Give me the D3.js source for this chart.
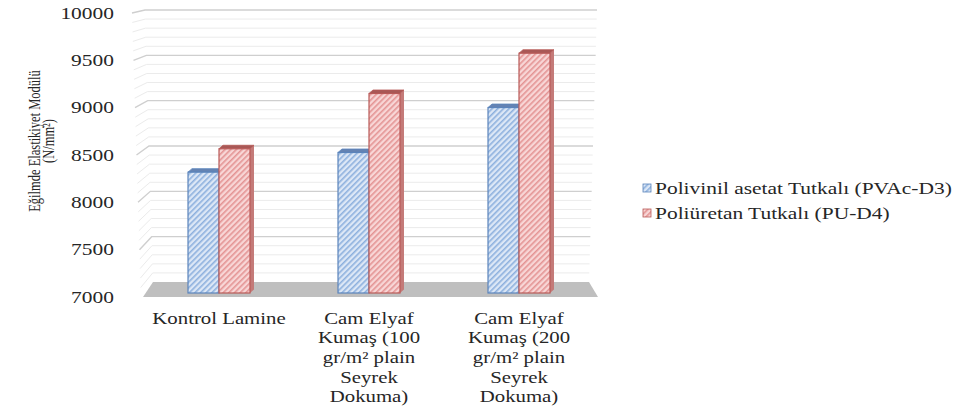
<!DOCTYPE html>
<html>
<head>
<meta charset="utf-8">
<script src="https://cdn.jsdelivr.net/npm/d3@7"></script>
<style>
  body { margin: 0; background: #fff; }
</style>
</head>
<body>
<div id="chart"></div>
<script>
var categories = ["Kontrol Lamine", "Cam Elyaf 100", "Cam Elyaf 200"];
var categoryLabels = [
  ["Kontrol Lamine"],
  ["Cam Elyaf", "Kumaş (100", "gr/m² plain", "Seyrek", "Dokuma)"],
  ["Cam Elyaf", "Kumaş (200", "gr/m² plain", "Seyrek", "Dokuma)"]
];
var seriesNames = ["Polivinil asetat Tutkalı (PVAc-D3)", "Poliüretan Tutkalı (PU-D4)"];
var pvacValues = [8290, 8500, 8980];
var puValues = [8540, 9130, 9560];
var yTicks = [7000, 7500, 8000, 8500, 9000, 9500, 10000];
var yTitle = ["Eğilmde Elastikiyet Modülü", "(N/mm²)"];

var seriesColors = [
  { base: "#dce7f6", stripe: "#8db0de", edge: "#5b84bb", top: "#6483b3", side: "#7b9ccb" },
  { base: "#f8d6d6", stripe: "#e49494", edge: "#b85a58", top: "#a85856", side: "#c47a78" }
];

var FONT = "'Liberation Serif', 'Times New Roman', 'DejaVu Serif', serif";
var W = 957, H = 409;
var hx = 1.3; // the picture is stretched sideways

var svg = d3.select("#chart").append("svg")
  .attr("width", W).attr("height", H);

var defs = svg.append("defs");
seriesColors.forEach(function(c, i) {
  var p = defs.append("pattern")
    .attr("id", "hatch" + i)
    .attr("patternUnits", "userSpaceOnUse")
    .attr("width", 4).attr("height", 4)
    .attr("patternTransform", "rotate(45)");
  p.append("rect").attr("width", 4).attr("height", 4).attr("fill", c.base);
  p.append("rect").attr("width", 1.6).attr("height", 4).attr("fill", c.stripe);
});

var lo = 7000, hi = 10000;
var yBack = d3.scaleLinear().domain([lo, hi]).range([282, 10]);
var yFront = d3.scaleLinear().domain([lo, hi]).range([297, 13]);
var yBar = d3.scaleLinear().domain([lo, hi]).range([293, 12]);
var xWallFront = d3.scaleLinear().domain([lo, hi]).range([141, 132]);
var xWallBack = d3.scaleLinear().domain([lo, hi]).range([153, 145]);
var xBackRight = d3.scaleLinear().domain([lo, hi]).range([589, 597]);

var x = d3.scaleBand().domain(categories).range([144, 594]);
var xs = d3.scaleBand().domain([0, 1]).range([0, x.bandwidth()]).paddingOuter(1.42);

// gridlines: minor every 100, major every 500
var gridVals = d3.range(lo + 100, hi + 1, 100);
var grid = svg.append("g");
gridVals.forEach(function(v) {
  var major = v % 500 === 0;
  grid.append("path")
    .attr("d", d3.line()([
      [xWallFront(v), yFront(v)],
      [xWallBack(v), yBack(v)],
      [xBackRight(v), yBack(v)]
    ]))
    .attr("fill", "none")
    .attr("stroke", major ? "#cfcfcf" : "#ebebeb")
    .attr("stroke-width", major ? 1.4 : 1);
});

// floor
svg.append("path")
  .attr("d", d3.line()([
    [143, yFront(lo)], [xWallBack(lo), yBack(lo)],
    [xBackRight(lo), yBack(lo)], [598, yFront(lo)]
  ]) + "Z")
  .attr("fill", "#bfbfbf");

// bars
var dx = 4, dy = 3.5;
var data = [];
categories.forEach(function(cat, i) {
  data.push({ cat: cat, s: 0, v: pvacValues[i] });
  data.push({ cat: cat, s: 1, v: puValues[i] });
});

var bars = svg.append("g").selectAll("g").data(data).join("g");
bars.each(function(d) {
  var g = d3.select(this);
  var c = seriesColors[d.s];
  var x0 = x(d.cat) + xs(d.s), x1 = x0 + xs.bandwidth();
  var yt = yBar(d.v), yb = yBar(lo);
  g.append("path")
    .attr("d", d3.line()([[x1, yt], [x1 + dx, yt - dy], [x1 + dx, yb - dy], [x1, yb]]) + "Z")
    .attr("fill", c.side);
  g.append("path")
    .attr("d", d3.line()([[x0, yt], [x0 + dx, yt - dy], [x1 + dx, yt - dy], [x1, yt]]) + "Z")
    .attr("fill", c.top).attr("stroke", c.edge).attr("stroke-width", 0.8);
  g.append("rect")
    .attr("x", x0).attr("y", yt)
    .attr("width", x1 - x0).attr("height", yb - yt)
    .attr("fill", "url(#hatch" + d.s + ")")
    .attr("stroke", c.edge).attr("stroke-width", 1.2);
});

function txt(sel, size) {
  return sel.attr("font-family", FONT).attr("font-size", size + "px").attr("fill", "#262626");
}

// y tick labels
txt(svg.append("g").selectAll("text").data(yTicks).join("text"), 16.5)
  .attr("transform", function(d) { return "translate(114," + yFront(d) + ") scale(" + hx + ",1)"; })
  .attr("text-anchor", "end")
  .attr("dy", "0.35em")
  .text(function(d) { return d; });

// category labels
var catG = svg.append("g").selectAll("g").data(categories).join("g")
  .attr("transform", function(d) { return "translate(" + (x(d) + x.bandwidth() / 2) + ",318)"; });
catG.each(function(d, i) {
  txt(d3.select(this).selectAll("text").data(categoryLabels[i]).join("text"), 16)
    .attr("transform", function(t, j) { return "translate(0," + (j * 19.7) + ") scale(" + hx + ",1)"; })
    .attr("text-anchor", "middle")
    .attr("dy", "0.35em")
    .text(function(t) { return t; });
});

// y axis title (rotated, so the sideways stretch thickens the glyphs)
txt(svg.append("g").selectAll("text").data(yTitle).join("text"), 12.5)
  .attr("transform", function(t, j) { return "translate(" + (j === 0 ? 34 : 48) + ",141) rotate(-90) scale(1," + hx + ")"; })
  .attr("text-anchor", "middle")
  .attr("dy", "0.35em")
  .text(function(t) { return t; });

// legend
var leg = svg.append("g").selectAll("g").data(seriesNames).join("g")
  .attr("transform", function(d, i) { return "translate(643," + (188 + i * 25) + ")"; });
leg.append("rect")
  .attr("x", 0).attr("y", -4).attr("width", 8).attr("height", 8)
  .attr("fill", function(d, i) { return "url(#hatch" + i + ")"; })
  .attr("stroke", function(d, i) { return seriesColors[i].edge; })
  .attr("stroke-width", 0.8);
txt(leg.append("text"), 16.5)
  .attr("transform", "translate(12,0) scale(" + hx + ",1)")
  .attr("dy", "0.35em")
  .text(function(d) { return d; });
</script>
</body>
</html>
